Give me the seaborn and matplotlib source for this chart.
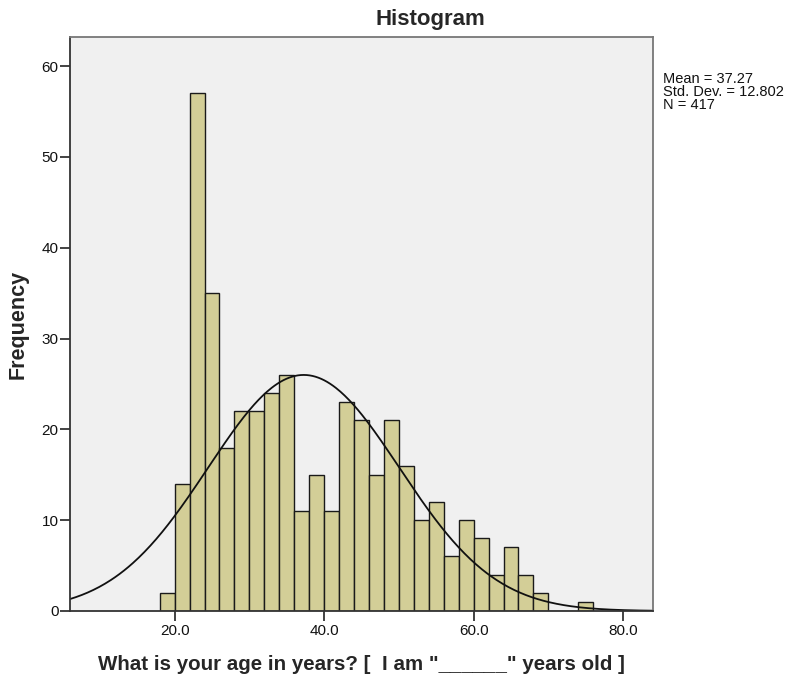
import numpy as np
import pandas as pd
import seaborn as sns
import matplotlib.pyplot as plt

bin_left = [18, 20, 22, 24, 26, 28, 30, 32, 34, 36, 38, 40, 42, 44, 46,
            48, 50, 52, 54, 56, 58, 60, 62, 64, 66, 68, 70, 72, 74]
counts = [2, 14, 57, 35, 18, 22, 22, 24, 26, 11, 15, 11, 23, 21, 15,
          21, 16, 10, 12, 6, 10, 8, 4, 7, 4, 2, 0, 0, 1]
bin_width = 2

mean_age = 37.27
sd_age = 12.802
n_total = 417

x_ticks = [20, 40, 60, 80]
y_ticks = [0, 10, 20, 30, 40, 50, 60]

df = pd.DataFrame({"edad": np.array(bin_left) + bin_width / 2, "n": counts})

sns.set_style("white")
plt.rcParams["font.family"] = ["Liberation Sans", "DejaVu Sans"]

fig = plt.figure(figsize=(7.92, 6.81), dpi=100)
ax = fig.add_axes([0.0884, 0.1028, 0.7361, 0.8429])
ax.set_facecolor("#F0F0F0")

sns.histplot(data=df, x="edad", weights="n", binwidth=bin_width,
             binrange=(bin_left[0], bin_left[-1] + bin_width), ax=ax,
             color="#D3CE97", edgecolor="#1a1a1a", linewidth=1.0, alpha=1)

# Curva normal
xs = np.linspace(6, 84, 400)
ys = n_total * bin_width * np.exp(-0.5 * ((xs - mean_age) / sd_age) ** 2) / (sd_age * np.sqrt(2 * np.pi))
sns.lineplot(x=xs, y=ys, ax=ax, color="#111111", linewidth=1.3)

ax.set_xlim(6, 84)
ax.set_ylim(0, 63.2)
ax.set_xticks(x_ticks)
ax.set_xticklabels([f"{t:.1f}" for t in x_ticks])
ax.set_yticks(y_ticks)
ax.tick_params(axis="both", bottom=True, left=True, direction="out", length=7.2,
               width=1.2, color="#222222", labelsize=11, labelcolor="#111111")
ax.tick_params(axis="x", pad=2.5)
ax.tick_params(axis="y", pad=1)

for side in ["left", "bottom"]:
    ax.spines[side].set_color("#333333")
    ax.spines[side].set_linewidth(1.3)
for side in ["top", "right"]:
    ax.spines[side].set_visible(True)
    ax.spines[side].set_color("#777777")
    ax.spines[side].set_linewidth(1.3)

ax.set_xlabel('What is your age in years? [  I am "______" years old ]',
              fontsize=14.8, fontweight="bold", labelpad=12)
ax.set_ylabel("Frequency", fontsize=15.5, fontweight="bold", labelpad=9)

# Título centrado sobre el área del gráfico + leyenda (como en SPSS)
fig.text(0.544, 0.972, "Histogram", fontsize=16, fontweight="bold",
         ha="center", va="center")

fig.text(0.837, 0.895, f"Mean = {mean_age}\nStd. Dev. = {sd_age}\nN = {n_total}",
         fontsize=10.5, va="top", ha="left", color="#111111", linespacing=0.95)

plt.savefig("out.png", dpi=100)
